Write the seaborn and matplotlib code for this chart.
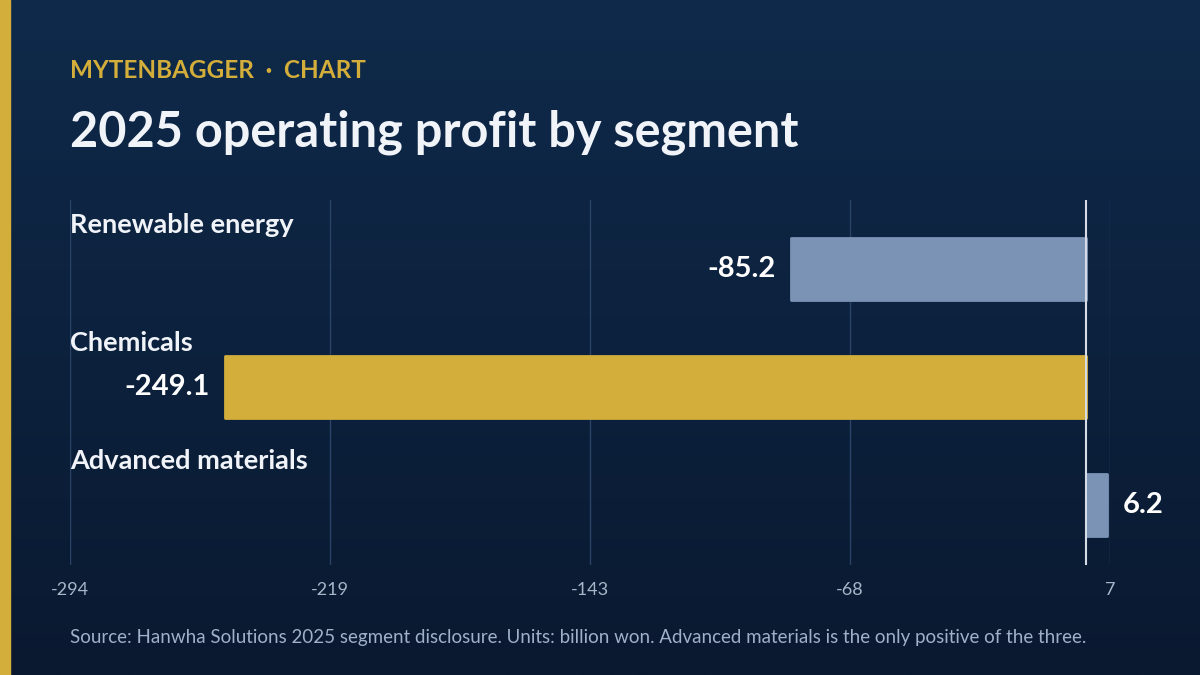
import numpy as np
import matplotlib
matplotlib.use("Agg")
import matplotlib.pyplot as plt
import seaborn as sns
import pandas as pd
from matplotlib.colors import LinearSegmentedColormap

segments = ["Renewable energy", "Chemicals", "Advanced materials"]
values = [-85.2, -249.1, 6.2]
value_labels = ["-85.2", "-249.1", "6.2"]
tick_values = [-294, -218.75, -143.5, -68.25, 7]
tick_labels = ["-294", "-219", "-143", "-68", "7"]
colors = ["#7b93b5", "#d4ae3a", "#7b93b5"]

sns.set_theme(style="white")
plt.rcParams["font.family"] = ["Lato", "DejaVu Sans"]

fig = plt.figure(figsize=(12, 6.75), dpi=100)
bg = fig.add_axes([0, 0, 1, 1])
grad = np.linspace(0, 1, 256).reshape(-1, 1)
cm = LinearSegmentedColormap.from_list("bg", ["#0f2a4b", "#0a1930"])
bg.imshow(grad, aspect="auto", cmap=cm, extent=[0, 1, 0, 1], origin="upper")
bg.add_patch(plt.Rectangle((0, 0), 10 / 1200, 1, color="#d4ae3a"))
bg.set_xlim(0, 1); bg.set_ylim(0, 1); bg.axis("off")

ax = fig.add_axes([70 / 1200, 1 - 565 / 675, 1040 / 1200, 365 / 675])
ax.patch.set_alpha(0)
df = pd.DataFrame({"segment": segments, "value": values})
sns.barplot(data=df, x="value", y="segment", hue="segment", palette=colors,
            orient="h", width=0.525, ax=ax, legend=False, zorder=3, saturation=1)
for p in ax.patches:
    p.set_edgecolor(p.get_facecolor()); p.set_linewidth(2); p.set_joinstyle("round")
ax.set_xlim(-294, 7)
ax.set_ylim(2.51, -0.585)
ax.set_xticks(tick_values)
ax.set_xticklabels(tick_labels, color="#a9b6c9", fontsize=13)
ax.tick_params(axis="x", length=0, pad=12)
ax.set_yticks([])
ax.set_xlabel(""); ax.set_ylabel("")
for s in ax.spines.values():
    s.set_visible(False)
for t in tick_values:
    ax.axvline(t, color="#2a4468", lw=1, zorder=1)
ax.axvline(0, color="#d5dce6", lw=1.5, zorder=4)
for i, (seg, v, lab) in enumerate(zip(segments, values, value_labels)):
    ax.text(-294, i - 0.37, seg, color="#f0f3f8", fontsize=19.5, fontweight="bold",
            va="center", ha="left")
    if v < 0:
        ax.text(v - 4.5, i, lab, color="#ffffff", fontsize=21, fontweight="bold",
                va="center", ha="right")
    else:
        ax.text(v + 4.5, i, lab, color="#ffffff", fontsize=21, fontweight="bold",
                va="center", ha="left")

fig.text(70 / 1200, 1 - 71 / 675, "MYTENBAGGER  ·  CHART", color="#d4ae3a",
         fontsize=17.5, fontweight="bold", va="center")
fig.text(70 / 1200, 1 - 132 / 675, "2025 operating profit by segment", color="#f0f3f8",
         fontsize=35, fontweight="bold", va="center")
fig.text(70 / 1200, 1 - 637 / 675,
         "Source: Hanwha Solutions 2025 segment disclosure. Units: billion won. Advanced materials is the only positive of the three.",
         color="#9fb0c8", fontsize=13.5, va="center")
fig.savefig("out.png", dpi=100)
